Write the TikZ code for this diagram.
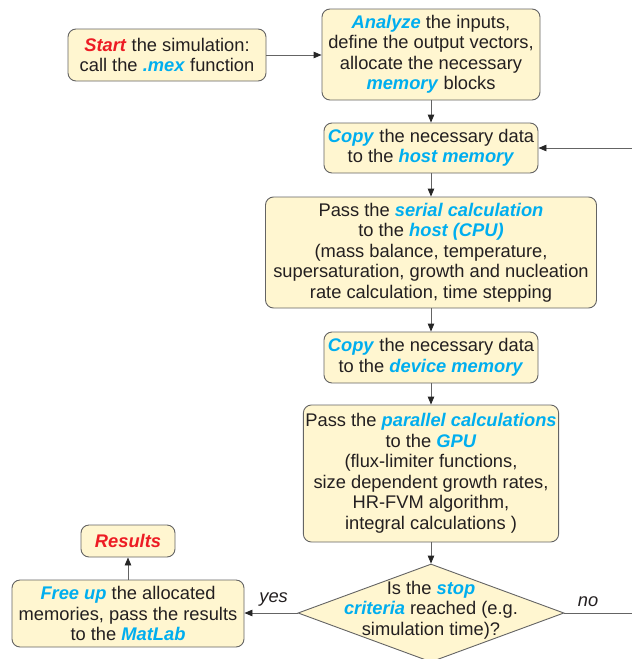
\documentclass[tikz,border=0pt]{standalone}
\usepackage{fontspec}
\setmainfont{Liberation Sans}
\usetikzlibrary{shapes.geometric, arrows.meta, positioning}
\definecolor{boxfill}{RGB}{255,246,208}
\definecolor{boxline}{RGB}{100,100,100}
\definecolor{cyan1}{RGB}{0,174,239}
\definecolor{red1}{RGB}{237,28,36}
\definecolor{text1}{RGB}{35,31,32}
\newcommand{\kwb}[1]{\textcolor{cyan1}{\textbf{\textit{#1}}}}
\newcommand{\kwr}[1]{\textcolor{red1}{\textbf{\textit{#1}}}}

\begin{document}
\begin{tikzpicture}[x=1pt, y=-1pt,
    font=\fontsize{18.3}{20.5}\selectfont, text=text1,
    box/.style={draw=boxline, fill=boxfill, rounded corners=8pt, align=center, inner sep=2pt, line width=0.9pt},
    decision/.style={draw=boxline, fill=boxfill, diamond, minimum width=266pt, minimum height=98pt, inner sep=0pt, line width=0.9pt},
    line/.style={draw=boxline, line width=0.9pt},
    arr/.style={line, -{Triangle[length=8pt, width=6.5pt, color=black!85]}}]
  \useasboundingbox (0,0) rectangle (632,659);

  % boxes of the flow
  \node[box, minimum width=198pt, minimum height=52pt] (start) at (167,55)
    {\kwr{Start} the simulation:\\ call the \kwb{.mex} function};
  \node[box, minimum width=218pt, minimum height=91pt] (analyze) at (431,54.5)
    {\kwb{Analyze} the inputs,\\ define the output vectors,\\ allocate the necessary\\ \kwb{memory} blocks};
  \node[box, minimum width=214pt, minimum height=50pt] (tohost) at (431,148)
    {\kwb{Copy} the necessary data\\ to the \kwb{host memory}};
  \node[box, minimum width=331pt, minimum height=111pt] (serial) at (431,252.5)
    {Pass the \kwb{serial calculation}\\ to the \kwb{host (CPU)}\\ (mass balance, temperature,\\ supersaturation, growth and nucleation\\ rate calculation, time stepping};
  \node[box, minimum width=214pt, minimum height=51pt] (todevice) at (431,357.5)
    {\kwb{Copy} the necessary data\\ to the \kwb{device memory}};
  \node[box, minimum width=255pt, minimum height=137pt] (parallel) at (431,473.5)
    {Pass the \kwb{parallel calculations}\\ to the \kwb{GPU}\\ (flux-limiter functions,\\ size dependent growth rates,\\ HR-FVM algorithm,\\ integral calculations )};
  \node[decision, label={[align=center, yshift=3pt]center:Is the \kwb{stop}\\ \kwb{criteria} reached (e.g.\\ simulation time)?}] (stop) at (431,613) {};
  \node[box, minimum width=232pt, minimum height=67pt] (freeup) at (128,613.5)
    {\kwb{Free up} the allocated\\ memories, pass the results\\ to the \kwb{MatLab}};
  \node[box, minimum width=94pt, minimum height=32pt] (results) at (128,541) {\kwr{Results}};

  % loop ends at the edge
  \coordinate (noend) at (632,613);
  \coordinate (loopin) at (632,148);

  % connectors
  \draw[arr] (start.east) -- (start.east -| analyze.west);
  \draw[arr] (analyze) -- (tohost);
  \draw[arr] (tohost) -- (serial);
  \draw[arr] (serial) -- (todevice);
  \draw[arr] (todevice) -- (parallel);
  \draw[arr] (parallel) -- (stop);
  \draw[arr] (stop.west) -- node[above=3pt, pos=0.45] {\textit{yes}} (freeup.east |- stop.west);
  \draw[line] (stop.east) -- node[above=3pt, pos=0.35] {\textit{no}} (noend);
  \draw[arr] (loopin) -- (tohost.east);
  \draw[arr] (freeup) -- (results);
\end{tikzpicture}
\end{document}
